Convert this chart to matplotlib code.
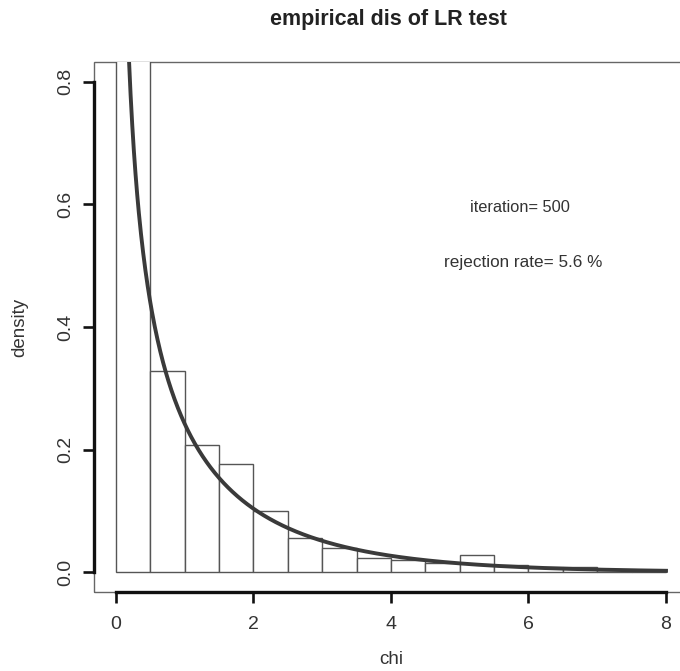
import numpy as np
import matplotlib
matplotlib.use("Agg")
import matplotlib.pyplot as plt
from matplotlib.patches import Rectangle

plt.rcParams['font.family'] = ['Liberation Sans', 'DejaVu Sans']

# histogram of the LR statistic (density scale), bins of width 0.5
bin_left = [0.0, 0.5, 1.0, 1.5, 2.0, 2.5, 3.0, 3.5, 4.0, 4.5, 5.0, 5.5, 6.0, 6.5, 7.0, 7.5]
bin_width = 0.5
bin_density = [0.968, 0.328, 0.208, 0.176, 0.100, 0.056, 0.040, 0.024,
               0.020, 0.016, 0.028, 0.012, 0.008, 0.008, 0.004, 0.004]

# reference chi-square density
chi_df = 1
iterations = 500
rejection_rate = 5.6

x_ticks = [0, 2, 4, 6, 8]
y_ticks = [0.0, 0.2, 0.4, 0.6, 0.8]

fig = plt.figure(figsize=(6.8, 6.71), dpi=100)
ax = fig.add_axes([94 / 680, 1 - 592 / 671, 594 / 680, 530 / 671])

ax.bar(bin_left, bin_density, width=bin_width, align='edge',
       facecolor='white', edgecolor='#555555', linewidth=1.0, zorder=2)

xs = np.linspace(0.004, 8, 1000)
ys = xs ** (chi_df / 2 - 1) * np.exp(-xs / 2) / (2 ** (chi_df / 2) * np.sqrt(np.pi))
ax.plot(xs, ys, color='#3a3a3a', linewidth=2.8, zorder=3)

ax.text(5.87, 0.595, 'iteration= %d' % iterations, ha='center', va='center',
        fontsize=11.8, color='#333333')
ax.text(5.93, 0.505, 'rejection rate= %s %%' % rejection_rate, ha='center', va='center',
        fontsize=12.3, color='#333333')

ax.set_xlim(-0.32, 8.32)
ax.set_ylim(-0.032, 0.832)

# thin frame around the plot region
for s in ['top', 'right']:
    ax.spines[s].set_visible(False)
ax.add_patch(Rectangle((0, 0), 1, 1, transform=ax.transAxes, fill=False,
                       edgecolor='#666666', linewidth=1.0, clip_on=False, zorder=1))

# R style axes: thick lines only over the tick range
ax.spines['left'].set_bounds(y_ticks[0], y_ticks[-1])
ax.spines['bottom'].set_bounds(x_ticks[0], x_ticks[-1])
for s in ['left', 'bottom']:
    ax.spines[s].set_linewidth(2.4)
    ax.spines[s].set_color('#111111')
    ax.spines[s].set_zorder(4)

ax.set_xticks(x_ticks)
ax.set_xticklabels([str(t) for t in x_ticks])
ax.set_yticks(y_ticks)
ax.set_yticklabels(['%.1f' % t for t in y_ticks])
ax.tick_params(direction='out', length=8, width=1.9, color='#111111',
               labelsize=14, labelcolor='#333333')
ax.tick_params(axis='x', pad=9)
ax.tick_params(axis='y', pad=6)
for lab in ax.get_yticklabels():
    lab.set_rotation(90)
    lab.set_va('center')

fig.text(388 / 680, 1 - 19 / 671, 'empirical dis of LR test', ha='center', va='center',
         fontsize=15.5, fontweight='bold', color='#222222')
fig.text(20 / 680, 1 - 327 / 671, 'density', rotation=90, ha='center', va='center',
         fontsize=13.5, color='#333333')
fig.text(391 / 680, 1 - 659 / 671, 'chi', ha='center', va='center',
         fontsize=13.5, color='#333333')

fig.savefig('out.png', dpi=100)
